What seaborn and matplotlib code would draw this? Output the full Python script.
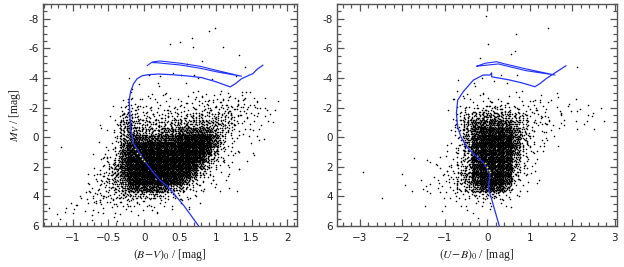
import numpy as np
import pandas as pd
import matplotlib
matplotlib.use('Agg')
import matplotlib.pyplot as plt
import seaborn as sns
from matplotlib.ticker import MultipleLocator, FuncFormatter

level_counts = [0, 1, 2, 4, 7, 12, 19, 30, 52, 90]
mv_start, mv_step = -9.0, 0.5

# Left panel: (B-V)0 cells of 0.1 mag starting at -1.4, Mv rows of 0.5 mag starting at -9
bv_start, bv_step = -1.4, 0.1
bv_grid = [
    "00000 00000 00000 00000 00000 00000 00000",
    "00000 00000 00000 00000 00000 00000 00000",
    "00000 00000 00000 00000 00001 00000 00000",
    "00000 00000 00000 00000 00100 00000 00000",
    "00000 00000 00000 00001 00000 00000 00000",
    "00000 00000 00000 00100 01000 00000 00000",
    "00000 00000 00000 00000 10001 00000 00000",
    "00000 00000 00000 00000 01000 01000 00000",
    "00000 00000 00000 00001 00000 00010 00000",
    "00000 00000 00000 10100 10010 00000 00000",
    "00000 00000 01000 11010 01000 00100 00000",
    "00000 00000 01010 10101 01010 10101 00000",
    "00000 00000 01211 11111 12222 22221 10000",
    "00000 00000 02322 22222 23333 33332 11100",
    "00000 00001 15433 33333 34444 44432 21100",
    "00000 00001 26544 44444 55555 54321 11000",
    "00000 00012 37655 55566 66665 54321 11000",
    "00000 00012 37766 66778 88875 32111 10000",
    "00100 00012 37888 88889 99986 32111 00000",
    "00000 00012 38999 99999 99975 32111 00000",
    "00000 00123 58999 99999 99763 21110 00000",
    "00000 00134 68999 99999 98643 21100 00000",
    "00000 01245 68999 99999 86421 11100 00000",
    "00000 11345 68999 99998 64321 11000 00000",
    "00000 01234 67888 88776 43211 10100 00000",
    "00001 12334 55666 65443 32110 01000 00000",
    "00001 22333 44333 32221 11000 00000 00000",
    "01222 22222 22222 21110 10000 00000 00000",
    "01010 01011 10100 10000 00000 00000 00000",
    "00000 00100 00000 00000 00000 00000 00000",
]

# Right panel: (U-B)0 cells of 0.2 mag starting at -3.5
ub_start, ub_step = -3.5, 0.2
ub_grid = [
    "00000 00000 00000 00000 00000 00000 000",
    "00000 00000 00000 00000 00000 00000 000",
    "00000 00000 00000 00100 00000 10000 000",
    "00000 00000 00000 00000 01000 00000 000",
    "00000 00000 00000 00000 00000 00000 000",
    "00000 00000 00000 00100 00000 00000 000",
    "00000 00000 00000 00100 01000 00000 000",
    "00000 00000 00000 00000 10000 00000 000",
    "00000 00000 00000 00000 00000 00010 000",
    "00000 00000 00000 00010 10000 00000 000",
    "00000 00000 00010 01110 00000 00000 000",
    "00000 00000 00001 10101 01010 00000 000",
    "00000 00000 00011 11211 11111 11000 000",
    "00000 00000 00012 22332 22222 11110 000",
    "00000 00000 00013 45555 44332 22221 110",
    "00000 00000 00015 67777 65433 22111 100",
    "00000 00000 00015 78888 75433 11111 000",
    "00000 00000 00015 78999 86322 11000 000",
    "00000 00000 00014 79999 85421 10000 000",
    "00000 00000 00124 79999 85421 00000 000",
    "00000 00000 01124 69999 74210 00000 000",
    "00000 00001 11234 69999 74210 00000 000",
    "00000 00100 01235 69999 63210 00000 000",
    "00010 00000 12346 79999 53210 00000 000",
    "00000 00101 12245 68998 42100 00000 000",
    "00001 00010 11234 45654 21000 00000 000",
    "00000 00000 10112 23322 10000 00000 000",
    "00000 00000 00101 11110 00000 00000 000",
    "00000 00000 00000 01000 00000 00000 000",
    "00000 00000 00000 00000 00000 00000 000",
]

# Isochrones (blue)
iso_bv = [0.76, 0.55, 0.34, 0.22, 0.13, 0.05, -0.01, -0.08, -0.15, -0.19, -0.20, -0.21,
          -0.19, -0.15, -0.10, -0.03, 0.05, 0.20, 0.40, 0.60, 0.80, 1.00, 1.20, 1.27,
          1.36, 1.45, 1.52, 1.58, 1.66]
iso_bv_mv = [6.0, 4.6, 3.4, 2.9, 2.4, 1.9, 1.5, 0.95, 0.4, -0.5, -1.5, -2.5,
             -3.1, -3.6, -3.95, -4.15, -4.22, -4.27, -4.22, -4.14, -4.03, -3.75, -3.4, -3.6,
             -3.95, -4.15, -4.3, -4.6, -4.87]
loop_bv = [0.04, 0.11, 0.22, 0.50, 0.78, 1.05, 1.36, 1.05, 0.78, 0.50, 0.18, 0.12]
loop_bv_mv = [-4.83, -5.08, -5.15, -5.0, -4.79, -4.47, -4.12, -4.38, -4.66, -4.88, -5.03, -5.04]

iso_ub = [0.28, 0.17, 0.10, 0.02, 0.06, 0.03, -0.10, -0.30, -0.49, -0.62, -0.70, -0.73,
          -0.70, -0.57, -0.33, -0.10, 0.06, 0.10, 0.10, 0.50, 0.80, 1.12, 1.25, 1.39,
          1.63, 1.85]
iso_ub_mv = [6.0, 4.9, 4.2, 3.4, 2.6, 2.3, 1.7, 1.2, 0.65, 0.0, -0.7, -1.6,
             -2.5, -3.07, -3.86, -4.2, -4.2, -4.35, -4.08, -3.88, -3.68, -3.41, -3.65, -3.97,
             -4.42, -4.83]
loop_ub = [-0.25, -0.05, 0.22, 0.37, 0.90, 1.59, 0.90, 0.37, 0.26, -0.25]
loop_ub_mv = [-4.80, -5.0, -5.10, -4.98, -4.62, -4.20, -4.50, -4.87, -4.95, -4.80]

# Yellow marks on the main sequence
yel_bv = [-0.13, -0.10, -0.06, -0.03, -0.01]
yel_bv_mv = [0.83, 1.05, 1.25, 1.45, 1.60]
yel_ub = [-0.05, 0.0, 0.04, 0.06]
yel_ub_mv = [1.77, 2.0, 2.2, 2.34]

BLUE = '#2233ff'


def grid_to_stars(grid, x0, dx):
    # spread each cell's count over a patch around the cell, using an even
    # (R2) sequence started at a different place for every cell
    a1, a2 = 0.7548776662466927, 0.5698402909980532
    spread = 1.8
    xs, ys = [], []
    for r, row in enumerate(grid):
        row = row.replace(' ', '')
        for c, ch in enumerate(row):
            n = level_counts[int(ch)]
            cell = r * 40 + c
            start = (cell * cell * 7919 + cell * 104729) % 1000003
            for i in range(n):
                k = start + i
                u = (0.5 + k * a1) % 1.0
                v = (0.5 + k * a2) % 1.0
                xs.append(x0 + dx * (c + 0.5 + (u - 0.5) * spread))
                ys.append(mv_start + mv_step * (r + 0.5 + (v - 0.5) * spread))
    return pd.DataFrame({'color': xs, 'mv': ys})


def style_axis(ax, xlim, xmajor, xminor):
    ax.set_xlim(*xlim)
    ax.set_ylim(6, -9)
    ax.xaxis.set_major_locator(MultipleLocator(xmajor))
    ax.xaxis.set_minor_locator(MultipleLocator(xminor))
    ax.yaxis.set_major_locator(MultipleLocator(2))
    ax.yaxis.set_minor_locator(MultipleLocator(0.5))
    ax.xaxis.set_major_formatter(FuncFormatter(lambda v, p: ('%g' % v).replace('-', '\u2212')))
    ax.yaxis.set_major_formatter(FuncFormatter(lambda v, p: '%g' % v))
    ax.tick_params(which='both', direction='in', top=True, right=True,
                   color='#555555', labelcolor='#222222', labelsize=7.5, width=0.9)
    ax.tick_params(which='major', length=5)
    ax.tick_params(which='minor', length=2.8)
    ax.tick_params(axis='x', pad=5)
    ax.tick_params(axis='y', pad=3)
    for s in ax.spines.values():
        s.set_color('#555555')
        s.set_linewidth(1.0)


sns.set_style('ticks')
plt.rcParams['font.family'] = ['DejaVu Sans']
plt.rcParams['mathtext.fontset'] = 'stix'

fig = plt.figure(figsize=(6.24, 2.67), dpi=100)
ax1 = fig.add_axes([43 / 624, 41 / 267, 254 / 624, 222 / 267])
ax2 = fig.add_axes([337 / 624, 41 / 267, 280 / 624, 222 / 267])

panels = [
    (ax1, bv_grid, bv_start, bv_step, iso_bv, iso_bv_mv, loop_bv, loop_bv_mv, yel_bv, yel_bv_mv),
    (ax2, ub_grid, ub_start, ub_step, iso_ub, iso_ub_mv, loop_ub, loop_ub_mv, yel_ub, yel_ub_mv),
]
for ax, grid, x0, dx, ix, iy, lx, ly, yx, yy in panels:
    stars = grid_to_stars(grid, x0, dx)
    sns.scatterplot(data=stars, x='color', y='mv', ax=ax, color='black', marker='o',
                    s=1.3, linewidth=0, legend=False)
    sns.lineplot(x=ix, y=iy, ax=ax, sort=False, estimator=None, color=BLUE, linewidth=0.9)
    sns.lineplot(x=lx, y=ly, ax=ax, sort=False, estimator=None, color=BLUE, linewidth=0.8)
    sns.scatterplot(x=yx, y=yy, ax=ax, color='#ffee00', marker='o', s=1.5, linewidth=0,
                    legend=False, zorder=5)

style_axis(ax1, (-1.415, 2.135), 0.5, 0.1)
style_axis(ax2, (-3.54, 3.05), 1, 0.2)

lab = dict(fontsize=8.5, family='Liberation Serif', color='#222222')
ax1.set_xlabel(r'$(B\!-\!V)_0$ / [mag]', labelpad=3, **lab)
ax1.set_ylabel(r'$M_V$ / [mag]', labelpad=4, **lab)
ax2.set_xlabel(r'$(U\!-\!B)_0$ / [mag]', labelpad=3, **lab)
ax2.set_ylabel('')

fig.savefig('out.png', dpi=100)
